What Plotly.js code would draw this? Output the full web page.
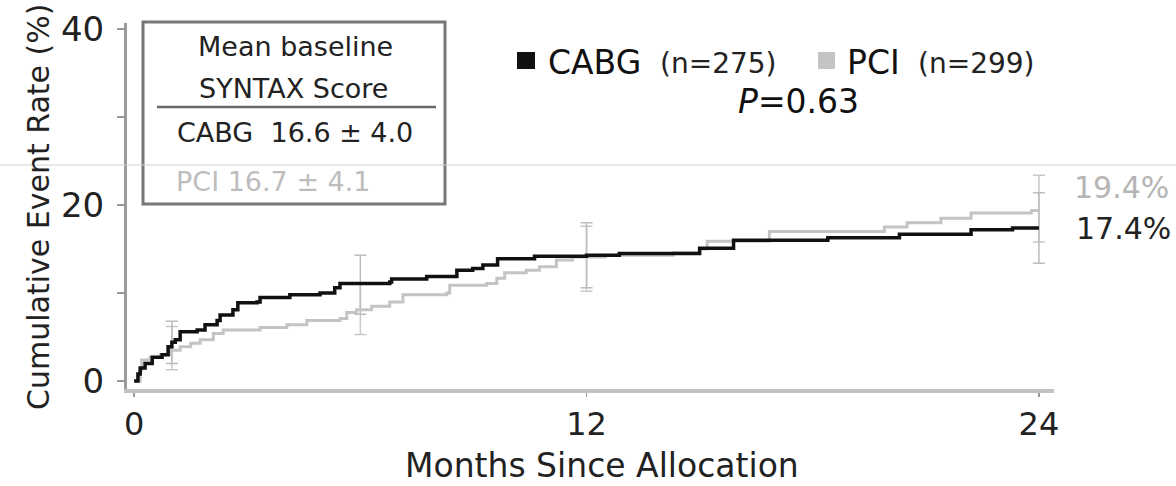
<!DOCTYPE html>
<html>
<head>
<meta charset="utf-8">
<script src="https://cdn.plot.ly/plotly-3.0.1.min.js"></script>
<style>
  html, body { margin: 0; padding: 0; background: #fff; }
  #chart { width: 1176px; height: 486px; }
</style>
</head>
<body>
<div id="chart"></div>
<script>
// ---- Data ----
const cabgTime = [0, 0.1, 0.16, 0.29, 0.48, 0.74, 0.9, 1.0, 1.09, 1.22, 1.67, 1.88, 2.2, 2.28, 2.62, 2.75, 3.26, 3.34, 4.13, 4.93, 5.32, 5.46, 6.78, 6.83, 7.76, 8.56, 8.98, 9.25, 9.64, 10.62, 12.0, 12.87, 15.0, 15.9, 18.4, 20.3, 22.2, 23.3, 24.0];
const cabgRate = [0, 0.8, 1.5, 2.0, 2.7, 3.0, 3.9, 4.4, 4.7, 5.6, 5.8, 6.4, 6.9, 7.5, 8.1, 8.9, 9.0, 9.5, 9.8, 10.0, 10.6, 11.1, 11.25, 11.6, 11.9, 12.6, 12.8, 13.2, 13.9, 14.2, 14.3, 14.5, 15.1, 16.0, 16.3, 16.7, 17.2, 17.4, 17.4];

const pciTime = [0, 0.16, 0.2, 0.42, 0.69, 0.95, 1.22, 1.5, 1.75, 2.1, 2.36, 3.34, 4.05, 4.58, 5.46, 5.64, 5.9, 6.3, 6.78, 7.13, 8.29, 8.37, 9.35, 9.62, 9.83, 10.4, 10.75, 11.2, 11.63, 12.5, 14.3, 15.0, 15.2, 16.85, 19.9, 20.5, 21.4, 22.2, 23.8, 24.0];
const pciRate = [0, 1.25, 2.4, 2.7, 3.0, 3.5, 3.9, 4.3, 4.7, 5.4, 5.8, 6.1, 6.4, 6.9, 7.1, 7.8, 8.1, 8.5, 9.0, 9.8, 10.0, 10.9, 11.1, 11.7, 12.3, 12.6, 13.0, 13.75, 14.1, 14.3, 14.6, 15.0, 15.9, 17.0, 17.5, 18.0, 18.5, 19.1, 19.4, 19.4];

const ciTime = [1, 6, 12, 24];
const cabgCiMid = [4.4, 11.1, 14.3, 17.4];
const cabgCiLow = [2.0, 7.6, 10.6, 13.4];
const cabgCiHigh = [6.8, 14.3, 18.0, 21.4];
const pciCiMid = [3.6, 8.1, 14.1, 19.4];
const pciCiLow = [1.3, 5.3, 10.2, 15.8];
const pciCiHigh = [6.2, 11.0, 17.6, 23.4];

const xTickVals = [0, 12, 24];
const yTickVals = [0, 10, 20, 30, 40];
const yTickText = ['0', '', '20', '', '40'];

const seriesNames = ['CABG', 'PCI'];
const seriesN = [275, 299];
const baselineScore = ['16.6 ± 4.0', '16.7 ± 4.1'];
const pValue = '0.63';
const endLabels = ['17.4%', '19.4%'];

// ---- Styling ----
const FONT = 'DejaVu Sans, sans-serif';
const BLACK = '#111111';
const GRAY = '#c4c4c4';
const ERR = '#c8c8c8';

function errTrace(mid, lo, hi, color) {
  return {
    x: ciTime, y: mid, type: 'scatter', mode: 'markers',
    marker: { size: 1, opacity: 0 },
    error_y: {
      type: 'data', symmetric: false,
      array: hi.map((h, i) => h - mid[i]),
      arrayminus: lo.map((l, i) => mid[i] - l),
      color: color, thickness: 1.5, width: 6
    },
    hoverinfo: 'skip', showlegend: false
  };
}

const traces = [
  errTrace(pciCiMid, pciCiLow, pciCiHigh, ERR),
  errTrace(cabgCiMid, cabgCiLow, cabgCiHigh, '#bdbdbd'),
  { x: pciTime, y: pciRate, type: 'scatter', mode: 'lines', line: { shape: 'hv', color: GRAY, width: 3 }, name: 'PCI', showlegend: false },
  { x: cabgTime, y: cabgRate, type: 'scatter', mode: 'lines', line: { shape: 'hv', color: BLACK, width: 3.5 }, name: 'CABG', showlegend: false }
];

// pixel -> paper helpers (plot area: x 127..1054, y 23..389)
const L = 127, R = 1054, T = 23, B = 389;
const px = v => (v - L) / (R - L);
const py = v => (B - v) / (B - T);

const annotations = [
  // y-axis title
  { text: 'Cumulative Event Rate (%)', xref: 'paper', yref: 'paper', x: px(38), y: py(207), textangle: -90, showarrow: false, font: { family: FONT, size: 30, color: '#222' }, xanchor: 'center', yanchor: 'middle' },
  // x-axis title
  { text: 'Months Since Allocation', xref: 'paper', yref: 'paper', x: px(602), y: py(465), showarrow: false, font: { family: FONT, size: 33, color: '#222' }, xanchor: 'center', yanchor: 'middle' },
  // box text
  { text: 'Mean baseline', xref: 'paper', yref: 'paper', x: px(295), y: py(47), showarrow: false, font: { family: FONT, size: 27, color: '#222' }, xanchor: 'center', yanchor: 'middle' },
  { text: 'SYNTAX Score', xref: 'paper', yref: 'paper', x: px(293), y: py(89), showarrow: false, font: { family: FONT, size: 27, color: '#222' }, xanchor: 'center', yanchor: 'middle' },
  { text: seriesNames[0] + '  ' + baselineScore[0], xref: 'paper', yref: 'paper', x: px(295), y: py(132), showarrow: false, font: { family: FONT, size: 27, color: '#222' }, xanchor: 'center', yanchor: 'middle' },
  { text: seriesNames[1] + ' ' + baselineScore[1], xref: 'paper', yref: 'paper', x: px(273), y: py(181), showarrow: false, font: { family: FONT, size: 27, color: '#bdbdbd' }, xanchor: 'center', yanchor: 'middle' },
  // top legend
  { text: seriesNames[0], xref: 'paper', yref: 'paper', x: px(546), y: py(62), showarrow: false, font: { family: FONT, size: 33, color: '#111' }, xanchor: 'left', yanchor: 'middle' },
  { text: '(n=' + seriesN[0] + ')', xref: 'paper', yref: 'paper', x: px(658), y: py(63), showarrow: false, font: { family: FONT, size: 28, color: '#222' }, xanchor: 'left', yanchor: 'middle' },
  { text: seriesNames[1], xref: 'paper', yref: 'paper', x: px(845), y: py(62), showarrow: false, font: { family: FONT, size: 33, color: '#111' }, xanchor: 'left', yanchor: 'middle' },
  { text: '(n=' + seriesN[1] + ')', xref: 'paper', yref: 'paper', x: px(916), y: py(63), showarrow: false, font: { family: FONT, size: 28, color: '#222' }, xanchor: 'left', yanchor: 'middle' },
  { text: '<i>P</i>=' + pValue, xref: 'paper', yref: 'paper', x: px(798), y: py(101), showarrow: false, font: { family: FONT, size: 33, color: '#111' }, xanchor: 'center', yanchor: 'middle' },
  // end labels
  { text: endLabels[1], xref: 'paper', yref: 'paper', x: px(1072), y: py(188), showarrow: false, font: { family: FONT, size: 30, color: '#b5b5b5' }, xanchor: 'left', yanchor: 'middle' },
  { text: endLabels[0], xref: 'paper', yref: 'paper', x: px(1074), y: py(228), showarrow: false, font: { family: FONT, size: 30, color: '#222' }, xanchor: 'left', yanchor: 'middle' }
];

const shapes = [
  // box
  { type: 'rect', xref: 'paper', yref: 'paper', x0: px(143), x1: px(445), y0: py(204), y1: py(22), line: { color: '#777', width: 3 }, fillcolor: 'rgba(0,0,0,0)' },
  { type: 'line', xref: 'paper', yref: 'paper', x0: px(157), x1: px(436), y0: py(107), y1: py(107), line: { color: '#666', width: 2.5 } },
  // legend squares
  { type: 'rect', xref: 'paper', yref: 'paper', x0: px(517), x1: px(535), y0: py(69), y1: py(52), line: { width: 0 }, fillcolor: '#111' },
  { type: 'rect', xref: 'paper', yref: 'paper', x0: px(818), x1: px(835), y0: py(69), y1: py(52), line: { width: 0 }, fillcolor: '#c4c4c4' },
  // thin horizontal scan line across the whole picture
  { type: 'line', xref: 'paper', yref: 'paper', x0: px(0), x1: px(1176), y0: py(165), y1: py(165), line: { color: '#cfcfcf', width: 1 }, layer: 'above' }
];

const layout = {
  width: 1176, height: 486,
  margin: { l: L, r: 1176 - R, t: T, b: 486 - B, pad: 0 },
  paper_bgcolor: '#fff', plot_bgcolor: '#fff',
  showlegend: false,
  xaxis: {
    range: [-0.19, 24.4], tickvals: xTickVals, ticktext: xTickVals.map(String),
    ticks: 'outside', ticklen: 4, tickwidth: 1.5, tickcolor: '#999',
    showline: true, linecolor: '#c2c2c2', linewidth: 4,
    showgrid: false, zeroline: false,
    tickfont: { family: FONT, size: 32, color: '#222' }
  },
  yaxis: {
    range: [-0.9, 40.7], tickvals: yTickVals, ticktext: yTickText,
    ticks: 'outside', ticklen: 7, tickwidth: 1.5, tickcolor: '#999',
    showline: true, linecolor: '#9a9a9a', linewidth: 3,
    showgrid: false, zeroline: false,
    ticklabelstandoff: 6,
    tickfont: { family: FONT, size: 34, color: '#222' }
  },
  annotations: annotations,
  shapes: shapes
};

Plotly.newPlot('chart', traces, layout, { staticPlot: true, displayModeBar: false });
</script>
</body>
</html>
